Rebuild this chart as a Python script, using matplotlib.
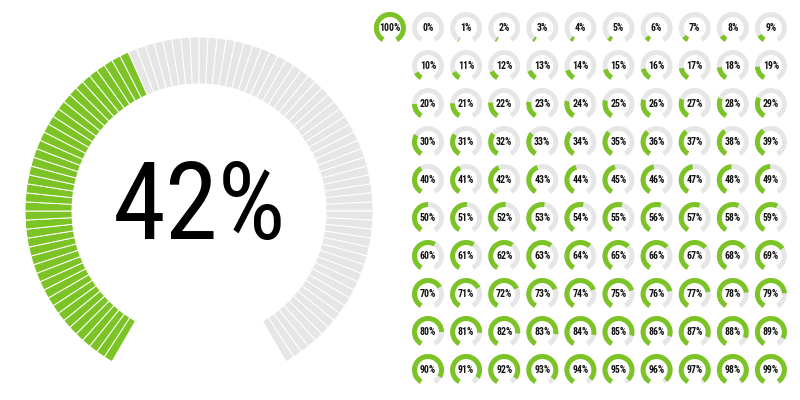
import matplotlib
matplotlib.use("Agg")
import matplotlib.pyplot as plt
from matplotlib.patches import Wedge
from matplotlib import font_manager

# ---------------- data ----------------
big_value = 42
big_segments = 100

first_row = [100, 0, 1, 2, 3, 4, 5, 6, 7, 8, 9]
rows = [
    [10, 11, 12, 13, 14, 15, 16, 17, 18, 19],
    [20, 21, 22, 23, 24, 25, 26, 27, 28, 29],
    [30, 31, 32, 33, 34, 35, 36, 37, 38, 39],
    [40, 41, 42, 43, 44, 45, 46, 47, 48, 49],
    [50, 51, 52, 53, 54, 55, 56, 57, 58, 59],
    [60, 61, 62, 63, 64, 65, 66, 67, 68, 69],
    [70, 71, 72, 73, 74, 75, 76, 77, 78, 79],
    [80, 81, 82, 83, 84, 85, 86, 87, 88, 89],
    [90, 91, 92, 93, 94, 95, 96, 97, 98, 99],
]

GREEN = "#7cc425"
GRAY = "#e6e6e6"
START = 240.0   # degrees, bottom-left
SPAN = 300.0    # clockwise sweep

# ---------------- font choice ----------------
names = {f.name: f for f in font_manager.fontManager.ttflist}
cond = None
for cand in ["Roboto Condensed", "Open Sans Condensed", "Liberation Sans Narrow",
             "Noto Sans Display"]:
    if cand in names:
        cond = dict(family=cand)
        break
if cond is None:
    has_djc = any(f.name == "DejaVu Sans" and "ondensed" in str(f.fname)
                  for f in font_manager.fontManager.ttflist)
    cond = dict(family="DejaVu Sans", stretch="condensed") if has_djc else dict(family="DejaVu Sans")

fig = plt.figure(figsize=(8, 4), dpi=100)
ax = fig.add_axes([0, 0, 1, 1])
ax.set_xlim(0, 800)
ax.set_ylim(0, 400)
ax.set_aspect("equal")
ax.axis("off")

# ---------------- big segmented gauge ----------------
cx, cy = 199, 189
R, W = 174, 47
step = SPAN / big_segments
for i in range(big_segments):
    t2 = START - step * i
    t1 = t2 - step
    ax.add_patch(Wedge((cx, cy), R, t1, t2, width=W,
                       facecolor=GREEN if i < big_value else GRAY,
                       edgecolor="white", linewidth=0.7))
ax.text(cx, cy + 1, f"{big_value}%", ha="center", va="center",
        fontsize=77, color="#000000", fontweight="normal", **cond)

# ---------------- small gauges ----------------
def small(x, y, v):
    r, w = 16, 5
    end = START - SPAN * v / 100.0
    ax.add_patch(Wedge((x, y), r, START - SPAN, START, width=w,
                       facecolor=GRAY, edgecolor="none"))
    if v > 0:
        ax.add_patch(Wedge((x, y), r, end, START, width=w,
                           facecolor=GREEN, edgecolor="none"))
    ax.text(x, y, f"{v}%", ha="center", va="center", fontsize=7,
            color="#111111", fontweight="bold", **cond)

x0, dx = 428, 38.1
y0, dy = 28, 38.0
for j, v in enumerate(first_row):
    small(x0 + dx * (j - 1), 400 - y0, v)
for r_i, row in enumerate(rows):
    for j, v in enumerate(row):
        small(x0 + dx * j, 400 - (y0 + dy * (r_i + 1)), v)

fig.savefig("out.png", dpi=100, facecolor="white")
